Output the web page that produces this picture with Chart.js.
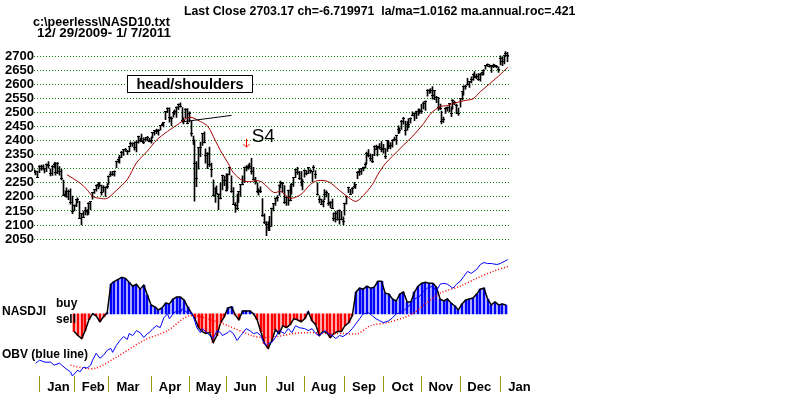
<!DOCTYPE html>
<html>
<head>
<meta charset="utf-8">
<script src="https://cdn.jsdelivr.net/npm/chart.js@4.4.1/dist/chart.umd.min.js"></script>
<style>
  html, body { margin: 0; padding: 0; background: #fff; }
  #wrap { position: relative; width: 800px; height: 395px; }
</style>
</head>
<body>
<div id="wrap"><canvas id="peerlessChart" width="800" height="395"></canvas></div>
<script>
// trading day index 0 = 12/29/2009, 259 = 1/7/2011
const monthStarts = [3, 22, 41, 64, 85, 105, 127, 148, 170, 191, 212, 233, 255];
const monthLabels = ['Jan', 'Feb', 'Mar', 'Apr', 'May', 'Jun', 'Jul', 'Aug', 'Sep', 'Oct', 'Nov', 'Dec', 'Jan'];
const priceTicks = [2050, 2100, 2150, 2200, 2250, 2300, 2350, 2400, 2450, 2500, 2550, 2600, 2650, 2700];

const closes = [
  2288, 2291, 2269,
  2308, 2308, 2301, 2300, 2317, 2312, 2282, 2307, 2317, 2288, 2320, 2291, 2265, 2205, 2210, 2203, 2221, 2179, 2147,
  2171, 2190, 2190, 2125, 2141, 2127, 2150, 2148, 2178, 2183, 2214, 2226, 2241, 2243, 2242, 2214, 2235, 2234, 2238,
  2274, 2281, 2280, 2292, 2327, 2332, 2341, 2358, 2368, 2368, 2362, 2378, 2389, 2391, 2374, 2395, 2415, 2399, 2398, 2395, 2404, 2410, 2398,
  2402, 2429, 2436, 2431, 2437, 2454, 2457, 2465, 2504, 2515, 2481, 2480, 2500, 2505, 2519, 2530, 2523, 2471, 2471, 2512, 2461,
  2498, 2424, 2402, 2320, 2265, 2375, 2375, 2425, 2394, 2347, 2354, 2317, 2299, 2204, 2229, 2213, 2210, 2195, 2277, 2257,
  2222, 2281, 2304, 2219, 2173, 2170, 2158, 2218, 2243, 2244, 2305, 2306, 2307, 2309, 2290, 2262, 2255, 2218, 2224, 2220, 2135, 2109,
  2102, 2092, 2094, 2159, 2175, 2196, 2198, 2242, 2250, 2249, 2179, 2198, 2222, 2187, 2245, 2269, 2296, 2288, 2265, 2251, 2255,
  2295, 2283, 2303, 2293, 2289, 2306, 2278, 2208, 2190, 2173, 2182, 2209, 2215, 2178, 2180, 2160, 2123, 2141, 2118, 2153, 2119, 2114,
  2177, 2200, 2234, 2209, 2229, 2236, 2243, 2286, 2290, 2301, 2304, 2316, 2356, 2349, 2335, 2327, 2381, 2370, 2379, 2376, 2369,
  2371, 2345, 2400, 2380, 2383, 2402, 2403, 2418, 2441, 2436, 2469, 2480, 2437, 2458, 2459, 2479, 2490, 2497, 2503, 2504, 2507,
  2505, 2533, 2541, 2578, 2578, 2580, 2562, 2578, 2555, 2518, 2513, 2469, 2476, 2514, 2518, 2532, 2495, 2543, 2535, 2526, 2498,
  2549, 2574, 2592, 2594, 2598, 2609, 2616, 2637, 2625, 2627, 2617, 2637, 2642, 2649, 2667, 2671, 2665, 2667, 2662, 2666, 2662, 2653,
  2691, 2681, 2702, 2710, 2703
];
const highs = [
  2296, 2293, 2292,
  2311, 2313, 2314, 2301, 2318, 2326, 2300, 2311, 2322, 2322, 2322, 2308, 2298, 2260, 2222, 2232, 2224, 2229, 2203,
  2172, 2191, 2197, 2184, 2142, 2150, 2163, 2155, 2180, 2184, 2214, 2227, 2243, 2251, 2252, 2242, 2240, 2236, 2247,
  2275, 2290, 2291, 2293, 2327, 2335, 2348, 2362, 2368, 2373, 2366, 2379, 2396, 2392, 2396, 2399, 2416, 2409, 2423, 2410, 2412, 2415, 2408,
  2414, 2430, 2437, 2441, 2440, 2454, 2462, 2465, 2504, 2517, 2517, 2485, 2501, 2510, 2520, 2531, 2535, 2518, 2481, 2514, 2514,
  2503, 2470, 2416, 2403, 2326, 2376, 2395, 2426, 2431, 2371, 2358, 2377, 2320, 2261, 2232, 2239, 2211, 2249, 2278, 2274,
  2282, 2282, 2305, 2275, 2233, 2180, 2210, 2218, 2244, 2275, 2306, 2311, 2315, 2320, 2337, 2305, 2270, 2250, 2229, 2236, 2194, 2140,
  2112, 2112, 2131, 2160, 2177, 2197, 2205, 2243, 2256, 2252, 2240, 2200, 2224, 2240, 2248, 2270, 2297, 2305, 2291, 2290, 2262,
  2296, 2294, 2304, 2297, 2291, 2311, 2294, 2250, 2204, 2192, 2190, 2226, 2222, 2213, 2183, 2192, 2143, 2148, 2151, 2154, 2149, 2129,
  2178, 2201, 2235, 2227, 2234, 2252, 2245, 2290, 2300, 2302, 2306, 2322, 2359, 2368, 2353, 2351, 2382, 2384, 2380, 2390, 2397,
  2387, 2372, 2401, 2400, 2393, 2404, 2413, 2420, 2453, 2446, 2472, 2483, 2470, 2468, 2479, 2481, 2503, 2499, 2505, 2513, 2512,
  2529, 2538, 2542, 2582, 2582, 2585, 2592, 2579, 2558, 2554, 2530, 2505, 2484, 2518, 2520, 2533, 2520, 2546, 2541, 2530, 2516,
  2551, 2575, 2595, 2598, 2622, 2610, 2627, 2638, 2646, 2637, 2639, 2640, 2645, 2653, 2668, 2673, 2671, 2667, 2672, 2671, 2668, 2663,
  2702, 2697, 2702, 2717, 2714
];
const lows = [
  2285, 2278, 2269,
  2286, 2295, 2296, 2285, 2290, 2302, 2275, 2276, 2303, 2277, 2283, 2277, 2260, 2204, 2202, 2198, 2190, 2174, 2140,
  2150, 2165, 2179, 2125, 2100, 2126, 2136, 2135, 2138, 2155, 2192, 2212, 2220, 2228, 2236, 2206, 2217, 2202, 2230,
  2244, 2273, 2276, 2274, 2304, 2323, 2320, 2340, 2348, 2362, 2350, 2360, 2380, 2380, 2366, 2360, 2391, 2396, 2397, 2389, 2398, 2399, 2396,
  2391, 2410, 2420, 2425, 2420, 2437, 2453, 2449, 2475, 2500, 2466, 2453, 2484, 2493, 2483, 2510, 2519, 2466, 2460, 2480, 2460,
  2467, 2416, 2387, 2185, 2236, 2299, 2343, 2383, 2392, 2320, 2300, 2308, 2271, 2203, 2180, 2211, 2155, 2193, 2225, 2240,
  2220, 2227, 2278, 2216, 2173, 2145, 2155, 2180, 2202, 2243, 2251, 2292, 2298, 2302, 2281, 2260, 2245, 2214, 2206, 2215, 2131, 2105,
  2062, 2080, 2080, 2095, 2150, 2170, 2185, 2205, 2232, 2218, 2177, 2170, 2171, 2186, 2210, 2237, 2268, 2280, 2262, 2239, 2225,
  2270, 2278, 2283, 2284, 2253, 2294, 2266, 2206, 2179, 2172, 2164, 2190, 2200, 2170, 2161, 2159, 2115, 2110, 2117, 2103, 2118, 2100,
  2135, 2174, 2215, 2208, 2212, 2232, 2230, 2265, 2276, 2280, 2292, 2302, 2318, 2342, 2328, 2322, 2347, 2368, 2346, 2370, 2360,
  2356, 2336, 2362, 2372, 2371, 2377, 2399, 2387, 2425, 2428, 2440, 2459, 2420, 2437, 2446, 2462, 2488, 2471, 2478, 2490, 2497,
  2497, 2513, 2508, 2558, 2568, 2570, 2548, 2546, 2535, 2508, 2510, 2460, 2465, 2497, 2505, 2502, 2485, 2512, 2528, 2496, 2490,
  2519, 2545, 2562, 2583, 2597, 2589, 2605, 2614, 2624, 2620, 2614, 2612, 2633, 2634, 2654, 2664, 2661, 2643, 2660, 2662, 2659, 2643,
  2669, 2667, 2673, 2700, 2681
];

// 21-day moving average (dark red line)
const maDays = [18, 25, 29, 32, 36, 40, 45, 51, 56, 62, 67, 73, 78, 85, 91, 95, 99, 102, 106, 109, 114, 118, 122, 125, 131, 135,
  140, 146, 151, 155, 161, 167, 172, 176, 180, 185, 188, 192, 196, 202, 207, 213, 217, 222, 226, 229, 235, 240, 244, 249, 254, 259];
const maValues = [2279, 2250, 2226, 2202, 2195, 2195, 2223, 2262, 2321, 2363, 2402, 2433, 2455, 2483, 2468, 2451, 2402, 2364, 2321, 2286, 2258, 2254, 2258, 2251, 2216, 2219,
  2195, 2209, 2244, 2258, 2254, 2223, 2198, 2184, 2205, 2244, 2280, 2318, 2345, 2384, 2416, 2461, 2497, 2521, 2525, 2532, 2542, 2549, 2574, 2602, 2630, 2661];

// NASDJI buy/sell histogram
const histDays = [22, 24, 26, 28, 30, 32, 34, 36, 38, 40, 42, 44, 46, 48, 50, 52, 54, 56, 58, 60, 62, 64, 66, 68, 70, 72, 74, 76, 78, 80,
  82, 84, 86, 88, 90, 92, 94, 96, 98, 100, 102, 104, 106, 108, 110, 112, 114, 116, 118, 120, 122, 124, 126, 128, 130, 132, 134, 136, 138, 140,
  142, 144, 146, 148, 150, 152, 154, 156, 158, 160, 162, 164, 166, 168, 170, 172, 174, 176, 178, 180, 182, 184, 186, 188, 190, 192, 194, 196, 198, 200,
  202, 204, 206, 208, 210, 212, 214, 216, 218, 220, 222, 224, 226, 228, 230, 232, 234, 236, 238, 240, 242, 244, 246, 248, 250, 252, 254, 256, 258];
const histValues = [-18, -22, -25, -17, -6, 0, -2, -8, -3, 1, 30, 33, 35, 37, 36, 32, 28, 30, 25, 29, 19, 9, 7, 4, 6, 11, 10, 15, 17, 17,
  14, 7, 1, -5, -14, -18, -20, -19, -29, -22, -9, -3, 6, 7, -1, -6, 3, 3, 3, 0, -6, -18, -30, -35, -27, -16, -20, -12, -14, -11,
  -5, -6, -8, -5, 2, -7, -11, -22, -18, -19, -24, -20, -18, -18, -12, -9, -2, 22, 26, 25, 28, 26, 27, 33, 33, 21, 20, 15, 13, 20,
  22, 12, 12, 22, 28, 31, 32, 31, 31, 27, 15, 13, 15, 11, 8, 4, 10, 14, 15, 16, 20, 25, 26, 15, 9, 12, 9, 10, 9];

// OBV (blue line) and its moving average (red dots)
const obvDays = [1, 3, 6, 9, 11, 14, 17, 20, 21, 24, 25, 27, 29, 31, 32, 34, 36, 38, 40, 42, 43, 45, 47, 49, 51, 52, 54, 56, 58, 60,
  62, 63, 65, 67, 69, 71, 73, 74, 76, 78, 80, 81, 84, 85, 87, 89, 91, 92, 95, 96, 98, 100, 102, 103, 106, 107, 109, 111, 113, 114,
  116, 118, 120, 122, 124, 125, 127, 128, 130, 132, 134, 137, 139, 141, 143, 145, 148, 150, 152, 154, 156, 159, 161, 163, 165, 167, 169, 172, 174, 176,
  178, 180, 183, 185, 187, 189, 191, 194, 196, 198, 200, 202, 205, 207, 209, 211, 213, 215, 218, 220, 222, 224, 226, 229, 231, 233, 235, 237, 239, 242,
  244, 246, 248, 250, 253, 255, 257, 259];
const obvValues = [-50, -47, -49, -49, -52, -50, -55, -59, -63, -57, -59, -54, -55, -52, -47, -40, -45, -42, -37, -35, -39, -32, -27, -23, -26, -20, -22, -17, -19, -24,
  -20, -19, -15, -12, -14, -4, 0, -5, 0, 3, 1, 5, 1, 3, -2, -14, -19, -15, -20, -22, -25, -17, -19, -22, -19, -17, -20, -27, -22, -20,
  -15, -17, -20, -19, -22, -27, -32, -30, -29, -24, -17, -20, -15, -19, -12, -14, -15, -17, -15, -20, -22, -17, -20, -22, -25, -22, -23, -19, -15, -10,
  -5, 0, 1, -2, -5, -7, -9, -7, -4, 0, 1, 3, 8, 13, 16, 18, 23, 26, 28, 23, 30, 31, 30, 26, 30, 33, 38, 43, 41, 45,
  50, 52, 51, 51, 50, 51, 53, 55];
const obvMaDays = [20, 27, 34, 45, 60, 73, 85, 100, 106, 119, 125, 133, 142, 151, 160, 169, 177, 184, 193, 202, 207, 214, 222, 233, 242, 251, 259];
const obvMaValues = [-52, -55, -55, -44, -27, -17, -2, -8, -12, -22, -24, -23, -20, -19, -20, -20, -20, -12, -9, -4, 0, 10, 21, 28, 36, 43, 48];

// annotations (data coordinates)
const necklineDays = [81, 108];
const necklineValues = [2467, 2490];
const hsBox = { day0: 51, day1: 119, top: 2632, bottom: 2572, text: 'head/shoulders' };
const s4 = { day: 119, value: 2396, arrowDay: 116, arrowTop: 2407, arrowBottom: 2377 };

const titleText = 'Last Close 2703.17 ch=-6.719971  la/ma=1.0162 ma.annual.roc=.421';
const FONT = '"Liberation Sans", Arial, sans-serif';

const pairs = (xs, ys) => xs.map((x, i) => ({ x: x, y: ys[i] }));

// snap thin bars/ticks onto whole pixels so they stay crisp black
const crispPlugin = {
  id: 'crisp',
  beforeDatasetsDraw(chart) {
    chart.data.datasets.forEach((ds, i) => {
      if (!ds.crispWidth) return;
      const w = ds.crispWidth;
      chart.getDatasetMeta(i).data.forEach(el => {
        el.x = Math.round(el.x - w / 2) + w / 2;
        if (ds.crispY) el.y = Math.round(el.y - 0.5) + 0.5;
      });
    });
  }
};

const textPlugin = {
  id: 'peerlessText',
  afterDraw(chart) {
    const ctx = chart.ctx;
    const xs = chart.scales.x, ys = chart.scales.y;
    ctx.save();
    ctx.fillStyle = '#000';
    ctx.textBaseline = 'middle';
    ctx.font = 'bold 12.3px ' + FONT;
    ctx.fillText(titleText, 184, 12);
    ctx.font = 'bold 12.5px ' + FONT;
    ctx.fillText('c:\\peerless\\NASD10.txt', 33, 23);
    ctx.font = 'bold 13.4px ' + FONT;
    ctx.fillText('12/ 29/2009- 1/ 7/2011', 37, 33);

    ctx.font = 'bold 12px ' + FONT;
    ctx.fillText('NASDJI', 2, 312);
    ctx.fillText('buy', 56, 304);
    ctx.fillText('sell', 56, 320);
    ctx.fillText('OBV (blue line)', 2, 355);

    // head/shoulders box
    const bx0 = Math.round(xs.getPixelForValue(hsBox.day0)) + 0.5;
    const bx1 = Math.round(xs.getPixelForValue(hsBox.day1)) + 0.5;
    const by0 = Math.round(ys.getPixelForValue(hsBox.top)) + 0.5;
    const by1 = Math.round(ys.getPixelForValue(hsBox.bottom)) + 0.5;
    ctx.fillStyle = '#fff';
    ctx.fillRect(bx0, by0, bx1 - bx0, by1 - by0);
    ctx.strokeStyle = '#000';
    ctx.lineWidth = 1;
    ctx.strokeRect(bx0, by0, bx1 - bx0, by1 - by0);
    ctx.fillStyle = '#000';
    ctx.font = 'bold 14.5px ' + FONT;
    ctx.textAlign = 'center';
    ctx.fillText(hsBox.text, (bx0 + bx1) / 2, (by0 + by1) / 2 + 0.5);

    // S4 signal
    ctx.textAlign = 'left';
    ctx.textBaseline = 'alphabetic';
    ctx.font = '19px ' + FONT;
    ctx.fillText('S4', xs.getPixelForValue(s4.day), ys.getPixelForValue(s4.value));
    const ax = Math.round(xs.getPixelForValue(s4.arrowDay)) + 0.5;
    const ay0 = ys.getPixelForValue(s4.arrowTop);
    const ay1 = ys.getPixelForValue(s4.arrowBottom);
    ctx.strokeStyle = '#ff0000';
    ctx.beginPath();
    ctx.moveTo(ax, ay0);
    ctx.lineTo(ax, ay1);
    ctx.moveTo(ax - 3, ay1 - 3);
    ctx.lineTo(ax, ay1);
    ctx.lineTo(ax + 3, ay1 - 3);
    ctx.stroke();
    ctx.restore();
  }
};

const priceBars = closes.map((c, i) => ({ x: i, y: [lows[i], highs[i]] }));
const closeTicks = closes.map((c, i) => ({ x: i, y: c }));
const histBars = pairs(histDays, histValues);

new Chart(document.getElementById('peerlessChart'), {
  type: 'bar',
  data: {
    datasets: [
      {
        type: 'line', label: 'neckline', yAxisID: 'y', order: 1,
        data: pairs(necklineDays, necklineValues),
        borderColor: '#000', borderWidth: 1, pointRadius: 0
      },
      {
        type: 'line', label: 'MA', yAxisID: 'y', order: 2,
        data: pairs(maDays, maValues),
        borderColor: '#a00000', borderWidth: 1, pointRadius: 0, tension: 0.3
      },
      {
        type: 'line', label: 'Close', yAxisID: 'y', order: 3,
        data: closeTicks, showLine: false,
        pointStyle: 'line', pointRadius: 1.5, pointBorderWidth: 1,
        pointBorderColor: '#000', crispWidth: 1, crispY: true
      },
      {
        type: 'bar', label: 'High-Low', yAxisID: 'y', order: 4,
        data: priceBars, grouped: false, barThickness: 1,
        backgroundColor: '#000', borderWidth: 0, crispWidth: 1
      },
      {
        type: 'line', label: 'OBV', yAxisID: 'yInd', order: 5,
        data: pairs(obvDays, obvValues),
        borderColor: '#0000ff', borderWidth: 1, pointRadius: 0
      },
      {
        type: 'line', label: 'OBV MA', yAxisID: 'yInd', order: 6,
        data: pairs(obvMaDays, obvMaValues),
        borderColor: '#ff0000', borderWidth: 1.5, borderDash: [1, 2], pointRadius: 0, tension: 0.3
      },
      {
        type: 'line', label: 'NASDJI line', yAxisID: 'yInd', order: 7,
        data: histBars,
        borderColor: '#000', borderWidth: 1.5, pointRadius: 0
      },
      {
        type: 'bar', label: 'NASDJI', yAxisID: 'yInd', order: 8,
        data: histBars, grouped: false, barThickness: 2, borderWidth: 0, crispWidth: 2,
        backgroundColor: ctx => (ctx.raw && ctx.raw.y < 0 ? '#ff0000' : '#0000ff')
      }
    ]
  },
  options: {
    responsive: false,
    animation: false,
    devicePixelRatio: 1,
    layout: { padding: { left: 0, right: 289.5, top: 0, bottom: 0 } },
    plugins: { legend: { display: false }, tooltip: { enabled: false } },
    scales: {
      x: {
        type: 'linear', min: 0, max: 260.5, offset: false,
        afterBuildTicks: s => { s.ticks = monthStarts.map(v => ({ value: v })); },
        afterFit: s => { s.height = 19; s.paddingLeft = 0; s.paddingRight = 0; },
        ticks: {
          autoSkip: false, maxRotation: 0, minRotation: 0, labelOffset: 19, padding: -12,
          color: '#000', font: { family: FONT, size: 13, weight: 'bold' },
          callback: (v, i) => monthLabels[i]
        },
        grid: { drawOnChartArea: false, drawTicks: true, tickLength: 16, color: '#9a9a10', offset: false },
        border: { display: false }
      },
      y: {
        position: 'left', min: 1563.16, max: 2882.46,
        afterBuildTicks: s => { s.ticks = priceTicks.map(v => ({ value: v })); },
        afterFit: s => { s.width = 34; s.paddingTop = 0; s.paddingBottom = 0; },
        ticks: {
          padding: 0, color: '#000', font: { family: FONT, size: 13, weight: 'bold' },
          callback: v => String(v)
        },
        grid: { color: '#008000', drawTicks: false, lineWidth: 1 },
        border: { display: false, dash: [1, 2] }
      },
      yInd: { display: false, min: -63, max: 313 }
    }
  },
  plugins: [crispPlugin, textPlugin]
});
</script>
</body>
</html>
